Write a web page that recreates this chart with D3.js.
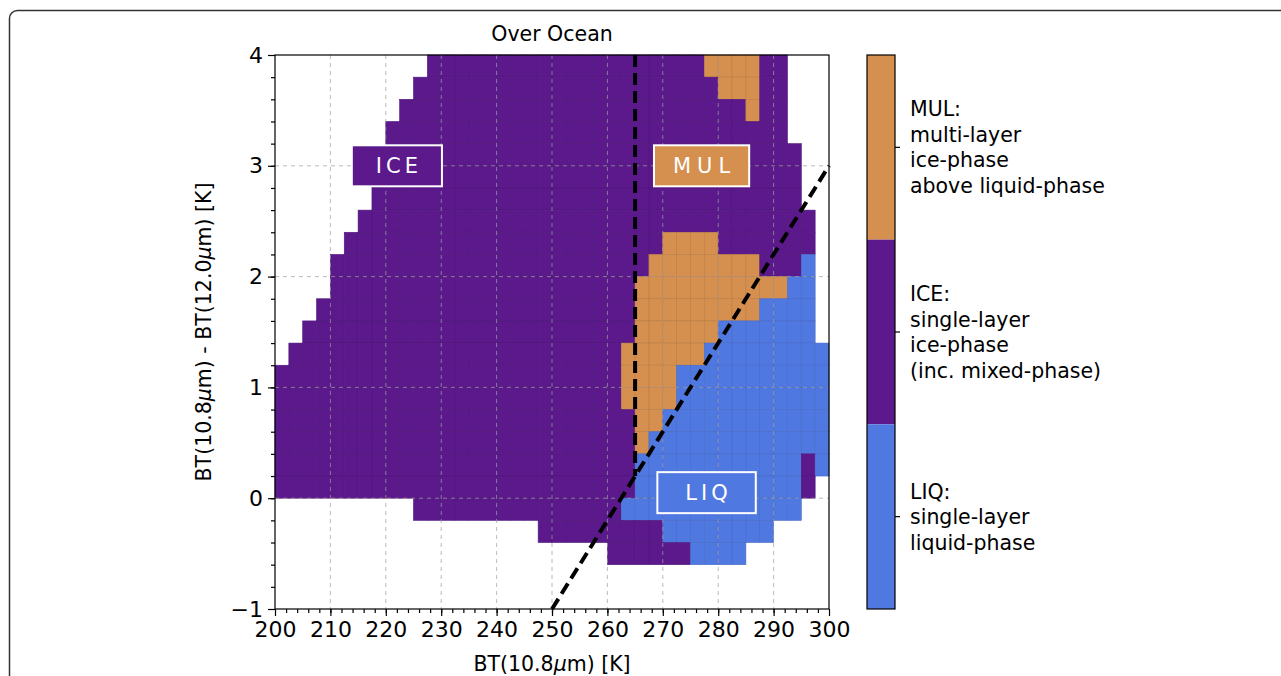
<!DOCTYPE html>
<meta charset="utf-8">
<style>
body { margin: 0; background: #fff; }
svg { display: block; font-family: "DejaVu Sans", sans-serif; }
.axis path, .axis line { stroke: #000; stroke-width: 1.2px; }
.grid line { stroke: #a0a0a0; stroke-width: 0.9px; stroke-dasharray: 4,4; opacity: 0.8; }
</style>
<body>
<script src="https://d3js.org/d3.v7.min.js"></script>
<script>

// phase colours
var phases = ["MUL", "ICE", "LIQ"];
var phaseColors = {MUL: "#d58f4e", ICE: "#5b198c", LIQ: "#5078e1"};

// lower edge of each BTD row (0.2 K tall), top row first
var btdRows = [3.8, 3.6, 3.4, 3.2, 3.0, 2.8, 2.6, 2.4, 2.2, 2.0, 1.8, 1.6, 1.4,
               1.2, 1.0, 0.8, 0.6, 0.4, 0.2, 0.0, -0.2, -0.4, -0.6, -0.8, -1.0];

// per row: runs of 2.5 K cells [from BT, to BT, phase]
var rowRuns = [
  [[227.5, 277.5, "ICE"], [277.5, 287.5, "MUL"], [287.5, 292.5, "ICE"]],
  [[225, 280, "ICE"], [280, 287.5, "MUL"], [287.5, 292.5, "ICE"]],
  [[222.5, 285, "ICE"], [285, 287.5, "MUL"], [287.5, 292.5, "ICE"]],
  [[220, 292.5, "ICE"]],
  [[220, 295, "ICE"]],
  [[217.5, 295, "ICE"]],
  [[217.5, 295, "ICE"]],
  [[215, 297.5, "ICE"]],
  [[212.5, 270, "ICE"], [270, 280, "MUL"], [280, 297.5, "ICE"]],
  [[210, 267.5, "ICE"], [267.5, 287.5, "MUL"], [287.5, 295, "ICE"], [295, 297.5, "LIQ"]],
  [[210, 265, "ICE"], [265, 292.5, "MUL"], [292.5, 297.5, "LIQ"]],
  [[207.5, 265, "ICE"], [265, 287.5, "MUL"], [287.5, 297.5, "LIQ"]],
  [[205, 265, "ICE"], [265, 280, "MUL"], [280, 297.5, "LIQ"]],
  [[202.5, 262.5, "ICE"], [262.5, 277.5, "MUL"], [277.5, 300, "LIQ"]],
  [[200, 262.5, "ICE"], [262.5, 272.5, "MUL"], [272.5, 300, "LIQ"]],
  [[200, 262.5, "ICE"], [262.5, 272.5, "MUL"], [272.5, 300, "LIQ"]],
  [[200, 265, "ICE"], [265, 270, "MUL"], [270, 300, "LIQ"]],
  [[200, 265, "ICE"], [265, 267.5, "MUL"], [267.5, 300, "LIQ"]],
  [[200, 265, "ICE"], [265, 295, "LIQ"], [295, 297.5, "ICE"], [297.5, 300, "LIQ"]],
  [[200, 265, "ICE"], [265, 295, "LIQ"], [295, 297.5, "ICE"]],
  [[225, 262.5, "ICE"], [262.5, 295, "LIQ"]],
  [[247.5, 270, "ICE"], [270, 290, "LIQ"]],
  [[260, 275, "ICE"], [275, 285, "LIQ"]],
  [],
  []
];

// threshold lines
var verticalLine = [[265, 4], [265, 0.2]];
var diagonalLine = [[250, -1], [300, 3]];

// in-plot labels [text, BT, BTD]
var boxLabels = [["ICE", 222, 3.0], ["MUL", 277, 3.0], ["LIQ", 277.9, 0.05]];
var boxSpacing = [4, 6, 4];
var boxPadding = [48, 38, 56];

// colorbar texts
var cbarLabels = {
  MUL: ["MUL:", "multi-layer", "ice-phase", "above liquid-phase"],
  ICE: ["ICE:", "single-layer", "ice-phase", "(inc. mixed-phase)"],
  LIQ: ["LIQ:", "single-layer", "liquid-phase"]
};

var xTicks = [200, 210, 220, 230, 240, 250, 260, 270, 280, 290, 300];
var yTicks = [-1, 0, 1, 2, 3, 4];

var cellW = 2.5, cellH = 0.2;

var W = 1281, H = 676;
var plot = {left: 275, right: 829, top: 55, bottom: 609};

var x = d3.scaleLinear().domain([200, 300]).range([plot.left, plot.right]);
var y = d3.scaleLinear().domain([-1, 4]).range([plot.bottom, plot.top]);

var svg = d3.select("body").append("svg")
    .attr("width", W)
    .attr("height", H);

// outer rounded frame (cut off at the right and bottom)
svg.append("path")
    .attr("d", "M" + (W + 5) + ",10.5 H17.5 A8,8 0 0 0 9.5,18.5 V" + (H + 5))
    .attr("fill", "none")
    .attr("stroke", "#333")
    .attr("stroke-width", 1.5);

// build cells
var cells = [];
rowRuns.forEach(function(runs, i) {
  runs.forEach(function(r) {
    var n = Math.round((r[1] - r[0]) / cellW);
    for (var k = 0; k < n; k++) {
      cells.push({bt: r[0] + k * cellW, btd: btdRows[i], phase: r[2]});
    }
  });
});

svg.append("g").selectAll("rect")
    .data(cells)
    .enter().append("rect")
    .attr("x", function(d) { return x(d.bt); })
    .attr("y", function(d) { return y(d.btd + cellH); })
    .attr("width", x(200 + cellW) - x(200))
    .attr("height", y(0) - y(cellH))
    .attr("fill", function(d) { return phaseColors[d.phase]; })
    .attr("stroke", function(d) { return d3.color(phaseColors[d.phase]).darker(0.35); })
    .attr("stroke-width", 0.6);

// grid on top of the cells
var grid = svg.append("g").attr("class", "grid");
grid.selectAll(".gx")
    .data(xTicks.slice(1, -1))
    .enter().append("line")
    .attr("x1", function(d) { return x(d); })
    .attr("x2", function(d) { return x(d); })
    .attr("y1", plot.top).attr("y2", plot.bottom);
grid.selectAll(".gy")
    .data(yTicks.slice(1, -1))
    .enter().append("line")
    .attr("y1", function(d) { return y(d); })
    .attr("y2", function(d) { return y(d); })
    .attr("x1", plot.left).attr("x2", plot.right);

// threshold lines
var line = d3.line()
    .x(function(d) { return x(d[0]); })
    .y(function(d) { return y(d[1]); });

[verticalLine, diagonalLine].forEach(function(l) {
  svg.append("path")
      .attr("d", line(l))
      .attr("fill", "none")
      .attr("stroke", "#000")
      .attr("stroke-width", 4)
      .attr("stroke-dasharray", "12,6");
});

// label boxes
boxLabels.forEach(function(b, i) {
  var g = svg.append("g");
  var t = g.append("text")
      .attr("x", x(b[1]) + boxSpacing[i] / 2)
      .attr("y", y(b[2]))
      .attr("dy", "0.36em")
      .attr("text-anchor", "middle")
      .style("font-size", "21px")
      .style("letter-spacing", boxSpacing[i] + "px")
      .attr("fill", "#fff")
      .text(b[0]);
  var bb = t.node().getBBox();
  var bw = bb.width - boxSpacing[i] + boxPadding[i];
  g.insert("rect", "text")
      .attr("x", x(b[1]) - bw / 2)
      .attr("y", y(b[2]) - 20.5)
      .attr("width", bw)
      .attr("height", 41)
      .attr("fill", phaseColors[b[0]])
      .attr("stroke", "#fff")
      .attr("stroke-width", 2);
});

// axes
svg.append("g")
    .attr("class", "axis")
    .attr("transform", "translate(0," + plot.bottom + ")")
    .call(d3.axisBottom(x).tickValues(d3.range(202, 300, 2)).tickSize(4).tickFormat("").tickSizeOuter(0));
svg.append("g")
    .attr("class", "axis")
    .attr("transform", "translate(0," + plot.bottom + ")")
    .call(d3.axisBottom(x).tickValues(xTicks).tickSize(7).tickPadding(5).tickSizeOuter(0));
svg.append("g")
    .attr("class", "axis")
    .attr("transform", "translate(" + plot.left + ",0)")
    .call(d3.axisLeft(y).tickValues(d3.range(-0.8, 4, 0.2)).tickSize(4).tickFormat("").tickSizeOuter(0));
svg.append("g")
    .attr("class", "axis")
    .attr("transform", "translate(" + plot.left + ",0)")
    .call(d3.axisLeft(y).tickValues(yTicks).tickSize(7).tickPadding(5).tickFormat(d3.format("d")).tickSizeOuter(0));

svg.selectAll(".axis path").remove();
svg.selectAll(".axis")
    .attr("font-family", "DejaVu Sans")
    .attr("font-size", 22)
  .selectAll("text")
    .style("font-size", "22px")
    .attr("fill", "#000");

svg.append("rect")
    .attr("x", plot.left).attr("y", plot.top)
    .attr("width", plot.right - plot.left)
    .attr("height", plot.bottom - plot.top)
    .attr("fill", "none")
    .attr("stroke", "#000")
    .attr("stroke-width", 1.2);

// title and axis titles
svg.append("text")
    .attr("x", (plot.left + plot.right) / 2)
    .attr("y", 41)
    .attr("text-anchor", "middle")
    .style("font-size", "20.5px")
    .text("Over Ocean");

var xl = svg.append("text")
    .attr("x", (plot.left + plot.right) / 2)
    .attr("y", 671)
    .attr("text-anchor", "middle")
    .style("font-size", "20.5px");
xl.append("tspan").text("BT(10.8");
xl.append("tspan").style("font-style", "italic").text("\u03bc");
xl.append("tspan").text("m) [K]");

var yl = svg.append("text")
    .attr("transform", "translate(211," + (plot.top + plot.bottom) / 2 + ") rotate(-90)")
    .attr("text-anchor", "middle")
    .style("font-size", "20.5px");
yl.append("tspan").text("BT(10.8");
yl.append("tspan").style("font-style", "italic").text("\u03bc");
yl.append("tspan").text("m) - BT(12.0");
yl.append("tspan").style("font-style", "italic").text("\u03bc");
yl.append("tspan").text("m) [K]");

// colorbar
var cb = {left: 867, right: 895};
var cy = d3.scaleBand().domain(phases).range([plot.top, plot.bottom]);

svg.append("g").selectAll("rect")
    .data(phases)
    .enter().append("rect")
    .attr("x", cb.left)
    .attr("y", function(d) { return cy(d); })
    .attr("width", cb.right - cb.left)
    .attr("height", cy.bandwidth())
    .attr("fill", function(d) { return phaseColors[d]; });

svg.append("rect")
    .attr("x", cb.left).attr("y", plot.top)
    .attr("width", cb.right - cb.left)
    .attr("height", plot.bottom - plot.top)
    .attr("fill", "none")
    .attr("stroke", "#000")
    .attr("stroke-width", 1.2);

phases.forEach(function(p) {
  var cmid = cy(p) + cy.bandwidth() / 2;
  svg.append("line")
      .attr("x1", cb.right).attr("x2", cb.right + 5)
      .attr("y1", cmid).attr("y2", cmid)
      .attr("stroke", "#000").attr("stroke-width", 1.2);
  var lines = cbarLabels[p];
  var lh = 25.5;
  var t = svg.append("text")
      .attr("x", cb.right + 15)
      .style("font-size", "20.5px");
  lines.forEach(function(s, i) {
    t.append("tspan")
        .attr("x", cb.right + 15)
        .attr("y", cmid + (i - (lines.length - 1) / 2) * lh)
        .attr("dy", "0.36em")
        .text(s);
  });
});

</script>
</body>
